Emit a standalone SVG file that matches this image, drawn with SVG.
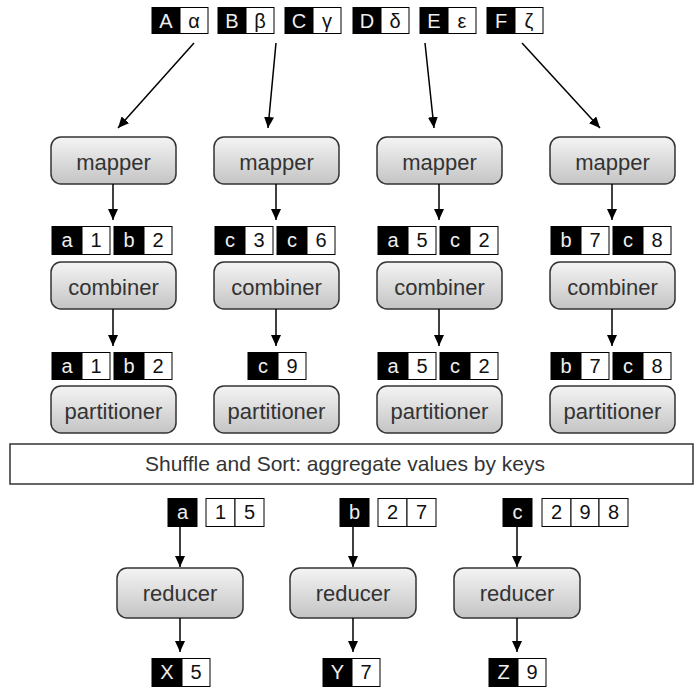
<svg xmlns="http://www.w3.org/2000/svg" width="694" height="690" viewBox="0 0 694 690">
<defs>
<linearGradient id="g" x1="0" y1="0" x2="0" y2="1">
<stop offset="0" stop-color="#f4f4f4"/>
<stop offset="1" stop-color="#c4c4c4"/>
</linearGradient>
<marker id="ah" markerWidth="11" markerHeight="10" refX="11" refY="5" orient="auto" markerUnits="userSpaceOnUse">
<path d="M0,0 L11,5 L0,10 z" fill="#000"/>
</marker>
<style>
.box{fill:url(#g);stroke:#333;stroke-width:1.5}
.lbl{font-family:"Liberation Sans",Arial,sans-serif;font-size:22px;fill:#333;text-anchor:middle}
.shl{font-family:"Liberation Sans",Arial,sans-serif;font-size:21px;fill:#333;text-anchor:middle}
.k{fill:#000;stroke:#000;stroke-width:1}
.v{fill:#fff;stroke:#000;stroke-width:1}
.kt{font-family:"Liberation Sans",Arial,sans-serif;font-size:20px;fill:#eee;text-anchor:middle}
.vt{font-family:"Liberation Sans",Arial,sans-serif;font-size:20px;fill:#111;text-anchor:middle}
.c{stroke:#000;stroke-width:1.5;fill:none;marker-end:url(#ah)}
.sh{fill:#fff;stroke:#333;stroke-width:1.5}
</style>
</defs>
<rect width="694" height="690" fill="#fff"/>

<!-- top input pairs -->
<g id="in-A"><rect class="k" x="152" y="7.5" width="28" height="26"/><rect class="v" x="180" y="7.5" width="28" height="26"/><text class="kt" x="166" y="27.5">A</text><text class="vt" x="194" y="27.5">α</text></g>
<g id="in-B"><rect class="k" x="218" y="7.5" width="28" height="26"/><rect class="v" x="246" y="7.5" width="28" height="26"/><text class="kt" x="232" y="27.5">B</text><text class="vt" x="260" y="27.5">β</text></g>
<g id="in-C"><rect class="k" x="285" y="7.5" width="28" height="26"/><rect class="v" x="313" y="7.5" width="28" height="26"/><text class="kt" x="299" y="27.5">C</text><text class="vt" x="327" y="27.5">γ</text></g>
<g id="in-D"><rect class="k" x="353" y="7.5" width="28" height="26"/><rect class="v" x="381" y="7.5" width="28" height="26"/><text class="kt" x="367" y="27.5">D</text><text class="vt" x="395" y="27.5">δ</text></g>
<g id="in-E"><rect class="k" x="420" y="7.5" width="28" height="26"/><rect class="v" x="448" y="7.5" width="28" height="26"/><text class="kt" x="434" y="27.5">E</text><text class="vt" x="462" y="27.5">ε</text></g>
<g id="in-F"><rect class="k" x="487" y="7.5" width="28" height="26"/><rect class="v" x="515" y="7.5" width="28" height="26"/><text class="kt" x="501" y="27.5">F</text><text class="vt" x="529" y="27.5">ζ</text></g>

<!-- mappers -->
<g id="mapper1"><rect class="box" x="51" y="137" width="125" height="47" rx="10"/><text class="lbl" x="113.5" y="169.5">mapper</text></g>
<g id="mapper2"><rect class="box" x="214" y="137" width="125" height="47" rx="10"/><text class="lbl" x="276.5" y="169.5">mapper</text></g>
<g id="mapper3"><rect class="box" x="377" y="137" width="125" height="47" rx="10"/><text class="lbl" x="439.5" y="169.5">mapper</text></g>
<g id="mapper4"><rect class="box" x="550" y="137" width="125" height="47" rx="10"/><text class="lbl" x="612.5" y="169.5">mapper</text></g>

<!-- mapper outputs -->
<g id="mo1">
<rect class="k" x="52" y="226.5" width="30" height="28"/><rect class="v" x="82" y="226.5" width="28" height="28"/><text class="kt" x="67" y="246.5">a</text><text class="vt" x="96" y="246.5">1</text>
<rect class="k" x="114" y="226.5" width="30" height="28"/><rect class="v" x="144" y="226.5" width="28" height="28"/><text class="kt" x="129" y="246.5">b</text><text class="vt" x="158" y="246.5">2</text>
</g>
<g id="mo2">
<rect class="k" x="215" y="226.5" width="30" height="28"/><rect class="v" x="245" y="226.5" width="28" height="28"/><text class="kt" x="230" y="246.5">c</text><text class="vt" x="259" y="246.5">3</text>
<rect class="k" x="277" y="226.5" width="30" height="28"/><rect class="v" x="307" y="226.5" width="28" height="28"/><text class="kt" x="292" y="246.5">c</text><text class="vt" x="321" y="246.5">6</text>
</g>
<g id="mo3">
<rect class="k" x="378" y="226.5" width="30" height="28"/><rect class="v" x="408" y="226.5" width="28" height="28"/><text class="kt" x="393" y="246.5">a</text><text class="vt" x="422" y="246.5">5</text>
<rect class="k" x="440" y="226.5" width="30" height="28"/><rect class="v" x="470" y="226.5" width="28" height="28"/><text class="kt" x="455" y="246.5">c</text><text class="vt" x="484" y="246.5">2</text>
</g>
<g id="mo4">
<rect class="k" x="551" y="226.5" width="30" height="28"/><rect class="v" x="581" y="226.5" width="28" height="28"/><text class="kt" x="566" y="246.5">b</text><text class="vt" x="595" y="246.5">7</text>
<rect class="k" x="613" y="226.5" width="30" height="28"/><rect class="v" x="643" y="226.5" width="28" height="28"/><text class="kt" x="628" y="246.5">c</text><text class="vt" x="657" y="246.5">8</text>
</g>

<!-- combiners -->
<g id="combiner1"><rect class="box" x="51" y="262" width="125" height="47" rx="10"/><text class="lbl" x="113.5" y="294.5">combiner</text></g>
<g id="combiner2"><rect class="box" x="214" y="262" width="125" height="47" rx="10"/><text class="lbl" x="276.5" y="294.5">combiner</text></g>
<g id="combiner3"><rect class="box" x="377" y="262" width="125" height="47" rx="10"/><text class="lbl" x="439.5" y="294.5">combiner</text></g>
<g id="combiner4"><rect class="box" x="550" y="262" width="125" height="47" rx="10"/><text class="lbl" x="612.5" y="294.5">combiner</text></g>

<!-- combiner outputs -->
<g id="co1">
<rect class="k" x="52" y="352.5" width="30" height="27"/><rect class="v" x="82" y="352.5" width="28" height="27"/><text class="kt" x="67" y="372.5">a</text><text class="vt" x="96" y="372.5">1</text>
<rect class="k" x="114" y="352.5" width="30" height="27"/><rect class="v" x="144" y="352.5" width="28" height="27"/><text class="kt" x="129" y="372.5">b</text><text class="vt" x="158" y="372.5">2</text>
</g>
<g id="co2">
<rect class="k" x="248" y="352.5" width="30" height="27"/><rect class="v" x="278" y="352.5" width="28" height="27"/><text class="kt" x="263" y="372.5">c</text><text class="vt" x="292" y="372.5">9</text>
</g>
<g id="co3">
<rect class="k" x="378" y="352.5" width="30" height="27"/><rect class="v" x="408" y="352.5" width="28" height="27"/><text class="kt" x="393" y="372.5">a</text><text class="vt" x="422" y="372.5">5</text>
<rect class="k" x="440" y="352.5" width="30" height="27"/><rect class="v" x="470" y="352.5" width="28" height="27"/><text class="kt" x="455" y="372.5">c</text><text class="vt" x="484" y="372.5">2</text>
</g>
<g id="co4">
<rect class="k" x="551" y="352.5" width="30" height="27"/><rect class="v" x="581" y="352.5" width="28" height="27"/><text class="kt" x="566" y="372.5">b</text><text class="vt" x="595" y="372.5">7</text>
<rect class="k" x="613" y="352.5" width="30" height="27"/><rect class="v" x="643" y="352.5" width="28" height="27"/><text class="kt" x="628" y="372.5">c</text><text class="vt" x="657" y="372.5">8</text>
</g>

<!-- partitioners -->
<g id="partitioner1"><rect class="box" x="51" y="386" width="125" height="47" rx="10"/><text class="lbl" x="113.5" y="418.5">partitioner</text></g>
<g id="partitioner2"><rect class="box" x="214" y="386" width="125" height="47" rx="10"/><text class="lbl" x="276.5" y="418.5">partitioner</text></g>
<g id="partitioner3"><rect class="box" x="377" y="386" width="125" height="47" rx="10"/><text class="lbl" x="439.5" y="418.5">partitioner</text></g>
<g id="partitioner4"><rect class="box" x="550" y="386" width="125" height="47" rx="10"/><text class="lbl" x="612.5" y="418.5">partitioner</text></g>

<!-- shuffle -->
<g id="shuffle"><rect class="sh" x="10" y="444" width="683" height="40"/><text class="shl" x="345" y="471">Shuffle and Sort: aggregate values by keys</text></g>

<!-- reducer inputs -->
<g id="ri-a">
<rect class="k" x="168" y="498.5" width="29" height="28"/><text class="kt" x="182.5" y="519">a</text>
<rect class="v" x="206" y="498.5" width="29" height="28"/><rect class="v" x="235" y="498.5" width="29" height="28"/><text class="vt" x="220.5" y="519">1</text><text class="vt" x="249.5" y="519">5</text>
</g>
<g id="ri-b">
<rect class="k" x="340" y="498.5" width="29" height="28"/><text class="kt" x="354.5" y="519">b</text>
<rect class="v" x="378" y="498.5" width="29" height="28"/><rect class="v" x="407" y="498.5" width="29" height="28"/><text class="vt" x="392.5" y="519">2</text><text class="vt" x="421.5" y="519">7</text>
</g>
<g id="ri-c">
<rect class="k" x="503" y="498.5" width="29" height="28"/><text class="kt" x="517.5" y="519">c</text>
<rect class="v" x="542" y="498.5" width="29" height="28"/><rect class="v" x="571" y="498.5" width="28" height="28"/><rect class="v" x="599" y="498.5" width="29" height="28"/><text class="vt" x="556.5" y="519">2</text><text class="vt" x="585" y="519">9</text><text class="vt" x="613.5" y="519">8</text>
</g>

<!-- reducers -->
<g id="reducer1"><rect class="box" x="117" y="568" width="126" height="50" rx="10"/><text class="lbl" x="180" y="600.5">reducer</text></g>
<g id="reducer2"><rect class="box" x="290" y="568" width="126" height="50" rx="10"/><text class="lbl" x="353" y="600.5">reducer</text></g>
<g id="reducer3"><rect class="box" x="454" y="568" width="126" height="50" rx="10"/><text class="lbl" x="517" y="600.5">reducer</text></g>

<!-- outputs -->
<g id="out-X"><rect class="k" x="152" y="658.5" width="30" height="28"/><rect class="v" x="182" y="658.5" width="28" height="28"/><text class="kt" x="167" y="679">X</text><text class="vt" x="196" y="679">5</text></g>
<g id="out-Y"><rect class="k" x="323" y="658.5" width="29" height="28"/><rect class="v" x="352" y="658.5" width="28" height="28"/><text class="kt" x="337.5" y="679">Y</text><text class="vt" x="366" y="679">7</text></g>
<g id="out-Z"><rect class="k" x="489" y="658.5" width="29" height="28"/><rect class="v" x="518" y="658.5" width="28" height="28"/><text class="kt" x="503.5" y="679">Z</text><text class="vt" x="532" y="679">9</text></g>

<g id="connectors">
<line class="c" x1="194" y1="43" x2="118" y2="128"/>
<line class="c" x1="276" y1="43" x2="268" y2="128"/>
<line class="c" x1="425" y1="43" x2="434" y2="128"/>
<line class="c" x1="522" y1="43" x2="600" y2="128"/>
<line class="c" x1="113" y1="184" x2="113" y2="220"/>
<line class="c" x1="276" y1="184" x2="276" y2="220"/>
<line class="c" x1="439" y1="184" x2="439" y2="220"/>
<line class="c" x1="612" y1="184" x2="612" y2="220"/>
<line class="c" x1="113" y1="309" x2="113" y2="346"/>
<line class="c" x1="276" y1="309" x2="276" y2="346"/>
<line class="c" x1="439" y1="309" x2="439" y2="346"/>
<line class="c" x1="612" y1="309" x2="612" y2="346"/>
<line class="c" x1="180" y1="527" x2="180" y2="567"/>
<line class="c" x1="353" y1="527" x2="353" y2="567"/>
<line class="c" x1="517" y1="527" x2="517" y2="567"/>
<line class="c" x1="180" y1="618" x2="180" y2="652"/>
<line class="c" x1="353" y1="618" x2="353" y2="652"/>
<line class="c" x1="517" y1="618" x2="517" y2="652"/>
</g>
</svg>
